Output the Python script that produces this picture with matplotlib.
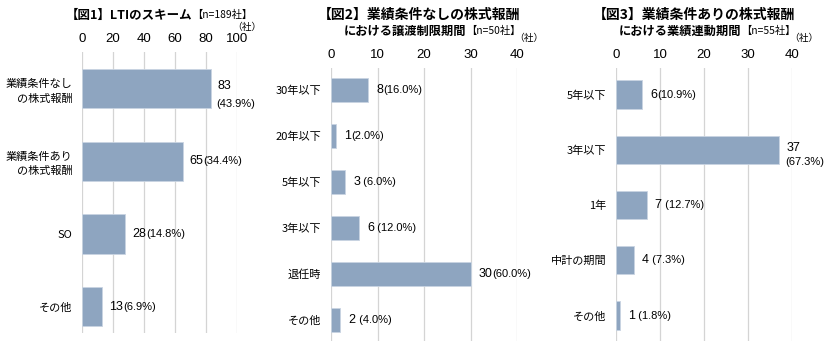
import matplotlib
matplotlib.use("Agg")
import matplotlib.pyplot as plt

plt.rcParams['font.family'] = ['Noto Sans CJK JP', 'DejaVu Sans']

W, H = 824, 345
BAR = '#8ea5c0'
GRID = '#d4d4d4'

# 図1: LTIのスキーム
cats1 = ['業績条件なし\nの株式報酬', '業績条件あり\nの株式報酬', 'SO', 'その他']
vals1 = [83, 65, 28, 13]
pcts1 = ['(43.9%)', '(34.4%)', '(14.8%)', '(6.9%)']

# 図2: 譲渡制限期間
cats2 = ['30年以下', '20年以下', '5年以下', '3年以下', '退任時', 'その他']
vals2 = [8, 1, 3, 6, 30, 2]
pcts2 = ['(16.0%)', '(2.0%)', ' (6.0%)', ' (12.0%)', '(60.0%)', ' (4.0%)']

# 図3: 業績連動期間
cats3 = ['5年以下', '3年以下', '1年', '中計の期間', 'その他']
vals3 = [6, 37, 7, 4, 1]
pcts3 = ['(10.9%)', '(67.3%)', ' (12.7%)', ' (7.3%)', ' (1.8%)']


def px_axes(fig, left, right, top, bottom):
    return fig.add_axes([left / W, (H - bottom) / H, (right - left) / W, (bottom - top) / H])


def draw(ax, cats, vals, pcts, xmax, step, ylim, height, stacked):
    ys = list(range(len(cats)))
    ax.barh(ys, vals, height=height, color=BAR, edgecolor='#c9d4e2', linewidth=0.6, zorder=2)
    ax.set_xlim(0, xmax)
    ax.set_ylim(*ylim)
    ax.set_xticks(range(0, xmax + 1, step))
    ax.xaxis.tick_top()
    ax.tick_params(axis='x', length=0, pad=5, labelsize=9.5, labelfontfamily='Liberation Sans')
    ax.set_yticks(ys)
    ax.set_yticklabels(cats, fontsize=8, linespacing=1.5)
    ax.tick_params(axis='y', length=0, pad=7)
    ax.grid(axis='x', color=GRID, linewidth=0.9, zorder=0)
    for s in ax.spines.values():
        s.set_visible(False)
    off = xmax * 0.045
    for i, (v, p) in enumerate(zip(vals, pcts)):
        if i in stacked:
            # number above, percentage below
            ax.text(v + off, i - 0.03, str(v), fontsize=9, va='center', ha='left',
                    family='Liberation Sans')
            ax.text(v + off * 0.8, i + 0.22, p.strip(), fontsize=8, va='center', ha='left',
                    family='Liberation Sans')
        else:
            t = ax.text(v + off, i, str(v), fontsize=9, va='center', ha='left',
                        family='Liberation Sans')
            ax.annotate(p, xy=(1, 0.5), xycoords=t, va='center', ha='left',
                        fontsize=8, family='Liberation Sans')


fig = plt.figure(figsize=(W / 100, H / 100), dpi=100)

ax1 = px_axes(fig, 82, 237, 52, 333)
draw(ax1, cats1, vals1, pcts1, 100, 20, (3.36, -0.5), 0.54, [0])

ax2 = px_axes(fig, 331, 517, 68, 341)
draw(ax2, cats2, vals2, pcts2, 40, 10, (5.46, -0.48), 0.52, [])

ax3 = px_axes(fig, 616, 792, 68, 341)
draw(ax3, cats3, vals3, pcts3, 40, 10, (4.46, -0.48), 0.51, [1])


def title(x, y, main, sub, size=9.5):
    t = fig.text(x / W, 1 - y / H, main, fontsize=size, fontweight='bold', va='center', ha='left')
    if sub:
        ax1.annotate(sub, xy=(1, 0.5), xycoords=t, va='center', ha='left', fontsize=7.4,
                     annotation_clip=False)


title(66, 15, '【図1】LTIのスキーム', '【n=189社】', 9)
title(318, 15, '【図2】業績条件なしの株式報酬', None, 10)
title(344, 31, 'における譲渡制限期間', '【n=50社】', 8.8)
title(593, 15, '【図3】業績条件ありの株式報酬', None, 10)
title(619, 31, 'における業績連動期間', '【n=55社】', 8.8)

for x, y in [(247, 27), (529, 38), (804, 38)]:
    fig.text(x / W, 1 - y / H, '（社）', fontsize=7, ha='center', va='center')

fig.savefig('out.png', dpi=100)
